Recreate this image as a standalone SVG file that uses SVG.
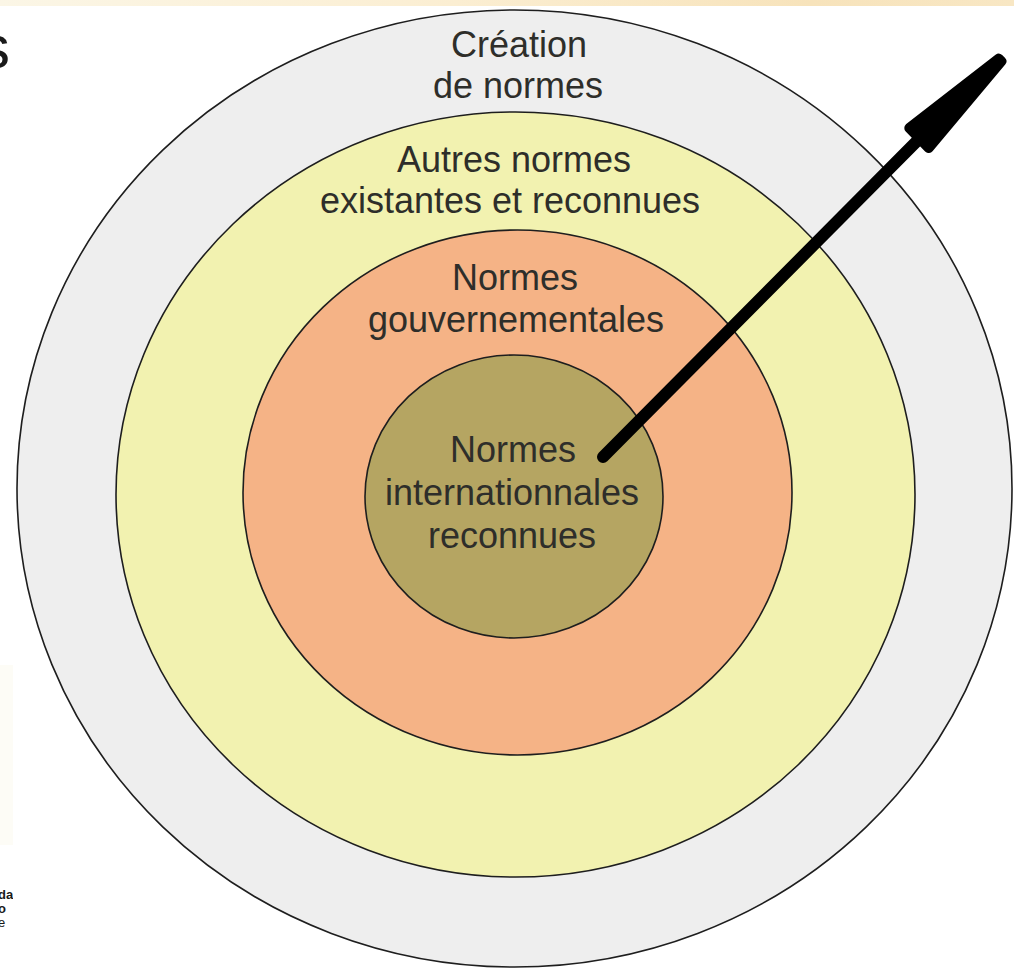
<svg xmlns="http://www.w3.org/2000/svg" width="1014" height="969" viewBox="0 0 1014 969">
  <defs>
    <linearGradient id="topband" x1="0" y1="0" x2="1" y2="0">
      <stop offset="0" stop-color="#fbf6e6"/>
      <stop offset="0.45" stop-color="#fbeed2"/>
      <stop offset="0.8" stop-color="#f7e3bb"/>
      <stop offset="1" stop-color="#f8e7c4"/>
    </linearGradient>
    <clipPath id="leftstrip">
      <rect x="0" y="0" width="13" height="969"/>
    </clipPath>
  </defs>
  <style>
    .ring { stroke: #1e1e1e; stroke-width: 1.6; }
    .lbl { font-family: "Liberation Sans", Arial, sans-serif; font-size: 36px; fill: #2e2e2a; text-anchor: middle; }
    .frag { font-family: "Liberation Sans", Arial, sans-serif; fill: #1a1a1a; }
  </style>
  <rect x="0" y="0" width="1014" height="969" fill="#ffffff"/>
  <rect x="0" y="0" width="1014" height="6" fill="url(#topband)"/>
  <rect x="0" y="665" width="13" height="180" fill="#fdfcf6"/>
  <g clip-path="url(#leftstrip)">
    <text class="frag" x="10" y="68" font-size="62" text-anchor="end">s</text>
    <text class="frag" x="-2" y="899" font-size="13" font-weight="bold">da</text>
    <text class="frag" x="-2" y="913" font-size="13" font-weight="bold">o</text>
    <text class="frag" x="-2" y="927" font-size="13">e</text>
  </g>
  <g id="ring-creation">
    <ellipse class="ring" cx="514.5" cy="488.5" rx="497.5" ry="478.5" fill="#eeeeee"/>
    <text class="lbl" x="519" y="57">Création</text>
    <text class="lbl" x="518" y="98">de normes</text>
  </g>
  <g id="ring-autres">
    <ellipse class="ring" cx="515.5" cy="494.5" rx="399.5" ry="382.5" fill="#f2f2b0"/>
    <text class="lbl" x="514" y="172">Autres normes</text>
    <text class="lbl" x="510" y="213">existantes et reconnues</text>
  </g>
  <g id="ring-gouv">
    <ellipse class="ring" cx="517.5" cy="492.5" rx="274.5" ry="262.5" fill="#f5b386"/>
    <text class="lbl" x="515" y="290">Normes</text>
    <text class="lbl" x="516" y="332">gouvernementales</text>
  </g>
  <g id="ring-inter">
    <ellipse class="ring" cx="514" cy="496.5" rx="149" ry="141.5" fill="#b5a562"/>
    <text class="lbl" x="513" y="462">Normes</text>
    <text class="lbl" x="512" y="505">internationnales</text>
    <text class="lbl" x="512" y="548">reconnues</text>
  </g>
  <g id="connectors">
    <line x1="603" y1="457" x2="921" y2="137" stroke="#000" stroke-width="12" stroke-linecap="round"/>
    <polygon points="928.7,148 909.3,128 998.6,58.6 1001.4,61.4" fill="#000" stroke="#000" stroke-width="10" stroke-linejoin="round"/>
  </g>
</svg>
